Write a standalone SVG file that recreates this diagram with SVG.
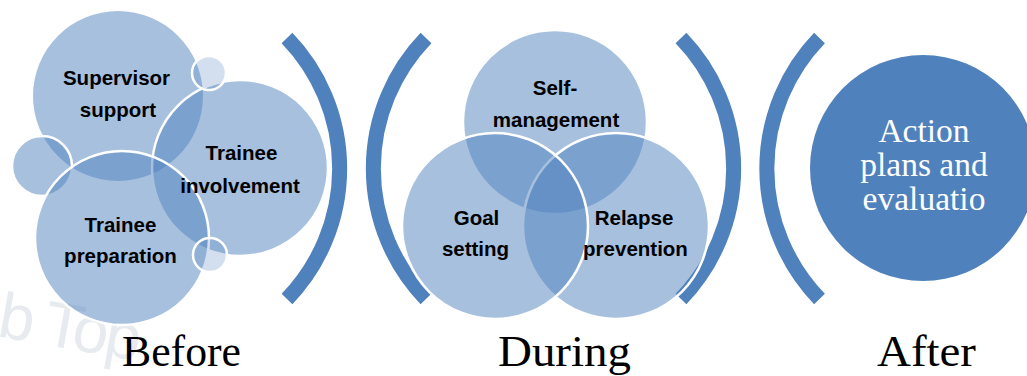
<svg xmlns="http://www.w3.org/2000/svg" width="1027" height="376" viewBox="0 0 1027 376">
<style>
.bg{fill:#ffffff}
.c{fill:#4F81BD;fill-opacity:0.5;stroke:#ffffff;stroke-width:2.5}
.cs{fill:#4F81BD;fill-opacity:0.25;stroke:#ffffff;stroke-width:2.5}
.cn{fill:#4F81BD;fill-opacity:0.5;stroke:none}
.after{fill:#4F81BD}
.br{fill:none;stroke:#4F81BD;stroke-width:15;stroke-linecap:butt}
.lb{font-family:"Liberation Sans",Arial,sans-serif;font-weight:bold;font-size:20.5px;fill:#000000;text-anchor:middle}
.ph{font-family:"Liberation Serif","Times New Roman",serif;font-size:44px;fill:#000000}
.at{font-family:"Liberation Serif","Times New Roman",serif;font-size:33.5px;fill:#ffffff;text-anchor:middle}
.wm{font-family:"Liberation Sans",Arial,sans-serif;font-size:64px;fill:#E7EAEE}
</style>
<rect class="bg" x="0" y="0" width="1027" height="376"/>
<text class="wm" x="-4" y="336" letter-spacing="-3" transform="rotate(10 -4 336)">b Top</text>
<g id="connectors">
  <path class="br" d="M 287 38 A 188 188 0 0 1 287 299"/>
  <path class="br" d="M 426 38 A 188 188 0 0 0 426 299"/>
  <path class="br" d="M 681 38 A 188 188 0 0 1 681 299"/>
  <path class="br" d="M 819.5 38 A 188 188 0 0 0 819.5 299"/>
</g>
<g id="before">
  <g id="supervisor-support">
    <circle class="cn" cx="118" cy="96" r="85"/>
    <text class="lb" x="116.5" y="85">Supervisor</text>
    <text class="lb" x="118" y="117">support</text>
  </g>
  <g id="small-left"><circle class="c" cx="42" cy="166" r="30"/></g>
  <g id="trainee-involvement">
    <circle class="c" cx="240" cy="168" r="88"/>
  </g>
  <g id="trainee-preparation">
    <circle class="c" cx="122" cy="238" r="87"/>
  </g>
  <g id="small-top"><circle class="cs" cx="209" cy="73" r="17"/></g>
  <g id="small-bottom"><circle class="cs" cx="210" cy="255" r="17"/></g>
  <text class="lb" x="241.5" y="160">Trainee</text>
  <text class="lb" x="240" y="193">involvement</text>
  <text class="lb" x="120.5" y="232">Trainee</text>
  <text class="lb" x="120.5" y="263">preparation</text>
  <text class="ph" x="122" y="366" textLength="119" lengthAdjust="spacingAndGlyphs">Before</text>
</g>
<g id="during">
  <g id="self-management"><circle class="c" cx="555" cy="122" r="92"/></g>
  <g id="relapse-prevention"><circle class="c" cx="616" cy="226" r="93"/></g>
  <g id="goal-setting"><circle class="c" cx="495" cy="226" r="93"/></g>
  <text class="lb" x="555" y="95">Self-</text>
  <text class="lb" x="556" y="127">management</text>
  <text class="lb" x="476.5" y="225">Goal</text>
  <text class="lb" x="475.5" y="256">setting</text>
  <text class="lb" x="634" y="225">Relapse</text>
  <text class="lb" x="635.5" y="256">prevention</text>
  <text class="ph" x="498" y="366" textLength="133" lengthAdjust="spacingAndGlyphs">During</text>
</g>
<g id="after">
  <g id="action-plans">
    <circle class="after" cx="923" cy="168" r="113"/>
    <text class="at" x="924" y="142">Action</text>
    <text class="at" x="924" y="176">plans and</text>
    <text class="at" x="924" y="210">evaluatio</text>
  </g>
  <text class="ph" x="877" y="366" textLength="99" lengthAdjust="spacingAndGlyphs">After</text>
</g>
</svg>
